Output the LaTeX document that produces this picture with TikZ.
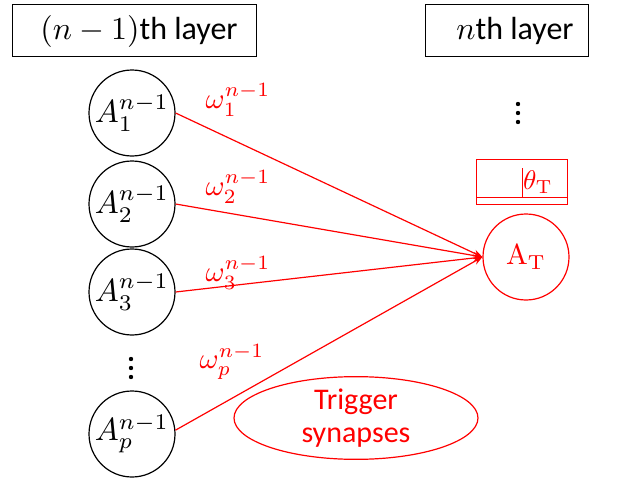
\documentclass[tikz,border=0pt]{standalone}
\usepackage[no-math]{fontspec}
\setmainfont{Carlito}
\usetikzlibrary{shapes.geometric,arrows.meta}
\newcommand\mysc[2]{\scalebox{#1}{\fontsize{10}{12}\selectfont$#2$}}
\begin{document}
\begin{tikzpicture}[x=1pt,y=-1pt,
  hdr/.style={draw,line width=1pt,minimum height=52pt,inner sep=0pt},
  htxt/.style={inner sep=0pt,font=\fontsize{32}{36}\selectfont},
  neuron/.style={draw,circle,line width=1.2pt,minimum size=86pt,inner sep=0pt},
  syn/.style={red,line width=1.2pt,-{Stealth[length=9pt,width=7pt]}},
  wlab/.style={red,inner sep=0pt},
  dotfill/.style={fill=black}]
\useasboundingbox (0,0) rectangle (625,479);
\node[hdr,minimum width=244pt] (h1) at (134,30) {};
\node[htxt] (h1t) at (139,31) {\mysc{3.2}{(n-1)}th layer};
\node[hdr,minimum width=163pt] (h2) at (506.5,30) {};
\node[htxt] (h2t) at (515,31) {\mysc{3.2}{n}th layer};
\node[neuron] (a1) at (132,113) {\mysc{3.2}{A_1^{n-1}}};
\node[neuron] (a2) at (132,204) {\mysc{3.2}{A_2^{n-1}}};
\node[neuron] (a3) at (132,292) {\mysc{3.2}{A_3^{n-1}}};
\node[neuron] (ap) at (132,434) {\mysc{3.2}{A_p^{n-1}}};
\foreach \yy in {359,368,377} \fill[dotfill] (131,\yy) circle (2.2pt);
\foreach \yy in {104,113,122} \fill[dotfill] (518,\yy) circle (2.2pt);
\node[neuron,red] (at) at (526,257) {\mysc{2.9}{\mathrm{A}_{\mathrm{T}}}};
\node[draw=red,line width=1pt,minimum width=91pt,minimum height=45pt,inner sep=0pt] (th) at (521.5,181.5) {};
\coordinate (thl) at (476,197);
\coordinate (thr) at (567,197);
\draw[red,line width=1pt] (thl) -- (thr);
\coordinate (vt) at (522,168);
\coordinate (vb) at (522,197);
\draw[red,line width=1pt] (vt) -- (vb);
\node[red,anchor=west,inner sep=1pt] (tht) at (522,182) {\mysc{2.7}{\theta_{\mathrm{T}}}};
\draw[syn] (a1.east) -- (at.west);
\draw[syn] (a2.east) -- (at.west);
\draw[syn] (a3.east) -- (at.west);
\draw[syn] (ap.5) -- (at.west);
\node[wlab] (w1) at (238,100) {\mysc{2.9}{\omega_1^{n-1}}};
\node[wlab] (w2) at (238,187) {\mysc{2.9}{\omega_2^{n-1}}};
\node[wlab] (w3) at (238,273) {\mysc{2.9}{\omega_3^{n-1}}};
\node[wlab] (wp) at (232,362) {\mysc{2.9}{\omega_p^{n-1}}};
\node[draw=red,ellipse,line width=1.2pt,minimum width=244pt,minimum height=74pt,inner sep=0pt,red,align=center,font=\fontsize{30}{33}\selectfont] (ts) at (356,418) {Trigger\\synapses};
\end{tikzpicture}
\end{document}
